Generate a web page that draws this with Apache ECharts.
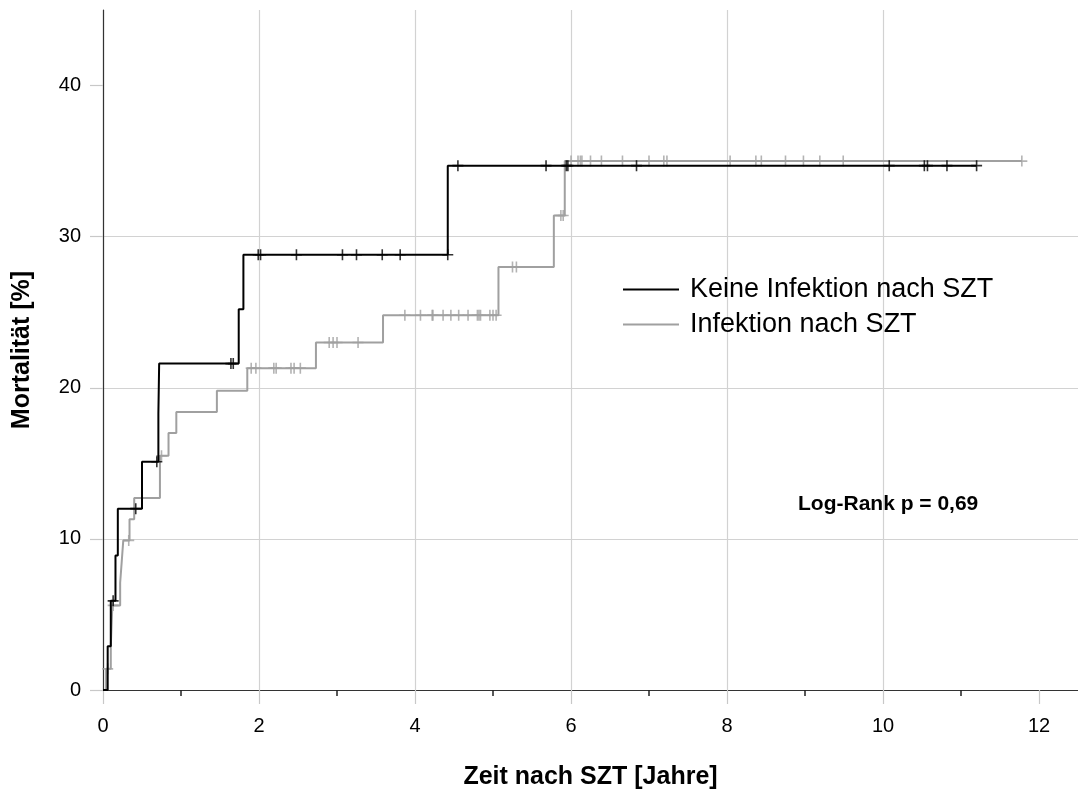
<!DOCTYPE html>
<html lang="de" style="height: 100%">
<head>
  <meta charset="utf-8">
</head>
<body style="height: 100%; margin: 0; background: #fff">
  <div id="container" style="width: 1078px; height: 789px"></div>

  <script type="text/javascript" src="https://cdn.jsdelivr.net/npm/echarts@6/dist/echarts.min.js"></script>

  <script type="text/javascript">
    // Kaplan-Meier Mortalität
    const keineT = [0, 0.06, 0.10, 0.16, 0.19, 0.50, 0.71, 0.72, 1.74, 1.80, 4.42, 11.20];
    const keineY = [0, 2.9, 5.9, 8.9, 12.0, 15.1, 18.3, 21.6, 25.2, 28.8, 34.7, 34.7];
    const keineCensT = [0.13, 0.42, 0.69, 1.64, 1.67, 1.99, 2.02, 2.48, 3.07, 3.25, 3.58, 3.81, 4.42,
      4.55, 5.68, 5.94, 5.96, 6.84, 10.08, 10.53, 10.57, 10.82, 11.20];
    const keineCensY = [5.9, 12.0, 15.1, 21.6, 21.6, 28.8, 28.8, 28.8, 28.8, 28.8, 28.8, 28.8, 28.8,
      34.7, 34.7, 34.7, 34.7, 34.7, 34.7, 34.7, 34.7, 34.7, 34.7];

    const infT = [0, 0.04, 0.10, 0.12, 0.22, 0.24, 0.26, 0.34, 0.40, 0.73, 0.84, 0.94, 1.46, 1.85,
      2.73, 3.59, 5.07, 5.78, 5.92, 11.78];
    const infY = [0, 1.4, 2.9, 5.6, 7.1, 8.5, 9.9, 11.3, 12.7, 15.5, 17.0, 18.4, 19.8, 21.3,
      23.0, 24.8, 28.0, 31.4, 35.0, 35.0];
    const infCensT = [0.06, 0.13, 0.33, 0.75,
      1.90, 1.96, 2.19, 2.22, 2.41, 2.45, 2.53,
      2.90, 2.95, 3.00, 3.27,
      3.87, 4.07, 4.22, 4.23, 4.36, 4.46, 4.56, 4.68, 4.80, 4.82, 4.84, 4.96, 5.00, 5.04,
      5.25, 5.30, 5.87, 5.90,
      6.00, 6.09, 6.12, 6.14, 6.25, 6.39, 6.66, 7.00, 7.19, 7.23, 8.04, 8.37, 8.44, 8.75, 8.98, 9.19, 9.49, 11.78];
    const infCensY = [1.4, 5.6, 9.9, 15.5,
      21.3, 21.3, 21.3, 21.3, 21.3, 21.3, 21.3,
      23.0, 23.0, 23.0, 23.0,
      24.8, 24.8, 24.8, 24.8, 24.8, 24.8, 24.8, 24.8, 24.8, 24.8, 24.8, 24.8, 24.8, 24.8,
      28.0, 28.0, 31.4, 31.4,
      35.0, 35.0, 35.0, 35.0, 35.0, 35.0, 35.0, 35.0, 35.0, 35.0, 35.0, 35.0, 35.0, 35.0, 35.0, 35.0, 35.0, 35.0];

    const xTicks = [0, 2, 4, 6, 8, 10, 12];
    const yTicks = [0, 10, 20, 30, 40];

    const black = '#000000';
    const grey = '#a0a0a0';
    const font = '"Liberation Sans", Arial, Helvetica, sans-serif';

    function zip(a, b) {
      return a.map(function (v, i) { return [v, b[i]]; });
    }

    const plus = 'path://M5,0L5,10M0,5L10,5';

    var dom = document.getElementById('container');
    var myChart = echarts.init(dom, null, { renderer: 'canvas' });

    var option = {
      backgroundColor: '#fff',
      animation: false,
      grid: { left: 103, right: 0, top: 10, bottom: 99, outerBoundsMode: 'none', containLabel: false },
      legend: {
        orient: 'vertical',
        left: 623,
        top: 276,
        padding: 0,
        icon: 'rect',
        itemWidth: 56,
        itemHeight: 2,
        itemGap: 8,
        data: ['Keine Infektion nach SZT', 'Infektion nach SZT'],
        textStyle: { fontSize: 27, color: '#000', fontFamily: font, padding: [0, 0, 0, 6] }
      },
      xAxis: {
        type: 'value',
        min: 0,
        max: 12.5,
        interval: 2,
        name: 'Zeit nach SZT [Jahre]',
        nameLocation: 'middle',
        nameGap: 75,
        nameTextStyle: { fontSize: 25, fontWeight: 'bold', color: '#000', fontFamily: font },
        axisLine: { show: true, onZero: false, lineStyle: { color: '#333', width: 1.2 } },
        axisTick: { show: true, length: 14, customValues: xTicks, lineStyle: { color: '#c8c8c8', width: 1.2 } },
        minorTick: { show: true, splitNumber: 2, length: 6, lineStyle: { color: '#222', width: 1.5 } },
        axisLabel: { customValues: xTicks, fontSize: 20, color: '#000', margin: 26, fontFamily: font },
        splitLine: { show: true, showMaxLine: false, lineStyle: { color: '#d2d2d2', width: 1.2 } }
      },
      yAxis: {
        type: 'value',
        min: 0,
        max: 45,
        interval: 10,
        name: 'Mortalität [%]',
        nameLocation: 'middle',
        nameGap: 68,
        nameTextStyle: { fontSize: 25, fontWeight: 'bold', color: '#000', fontFamily: font },
        axisLine: { show: true, onZero: false, lineStyle: { color: '#333', width: 1.2 } },
        axisTick: { show: true, length: 13, customValues: yTicks, lineStyle: { color: '#c8c8c8', width: 1.2 } },
        axisLabel: { customValues: yTicks, fontSize: 20, color: '#000', margin: 22, fontFamily: font },
        splitLine: { show: true, showMaxLine: false, lineStyle: { color: '#d2d2d2', width: 1.2 } }
      },
      series: [
        {
          name: 'Keine Infektion nach SZT',
          type: 'line',
          step: 'end',
          symbol: 'none',
          color: black,
          lineStyle: { color: black, width: 2 },
          data: zip(keineT, keineY),
          z: 3
        },
        {
          name: 'Infektion nach SZT',
          type: 'line',
          step: 'end',
          symbol: 'none',
          color: grey,
          lineStyle: { color: grey, width: 2 },
          data: zip(infT, infY),
          z: 2
        },
        {
          name: 'keineZensiert',
          type: 'scatter',
          symbol: plus,
          symbolSize: [11, 11],
          itemStyle: { color: 'rgba(0,0,0,0)', borderColor: black, borderWidth: 1.6 },
          data: zip(keineCensT, keineCensY),
          z: 4
        },
        {
          name: 'infZensiert',
          type: 'scatter',
          symbol: plus,
          symbolSize: [11, 11],
          itemStyle: { color: 'rgba(0,0,0,0)', borderColor: grey, borderWidth: 1.6 },
          data: zip(infCensT, infCensY),
          z: 2
        }
      ],
      graphic: {
        elements: [
          {
            type: 'text',
            left: 798,
            top: 494,
            style: {
              text: 'Log-Rank p = 0,69',
              font: 'bold 21px ' + font,
              fill: '#000'
            }
          }
        ]
      }
    };

    myChart.setOption(option);
    window.addEventListener('resize', myChart.resize);
  </script>
</body>
</html>
